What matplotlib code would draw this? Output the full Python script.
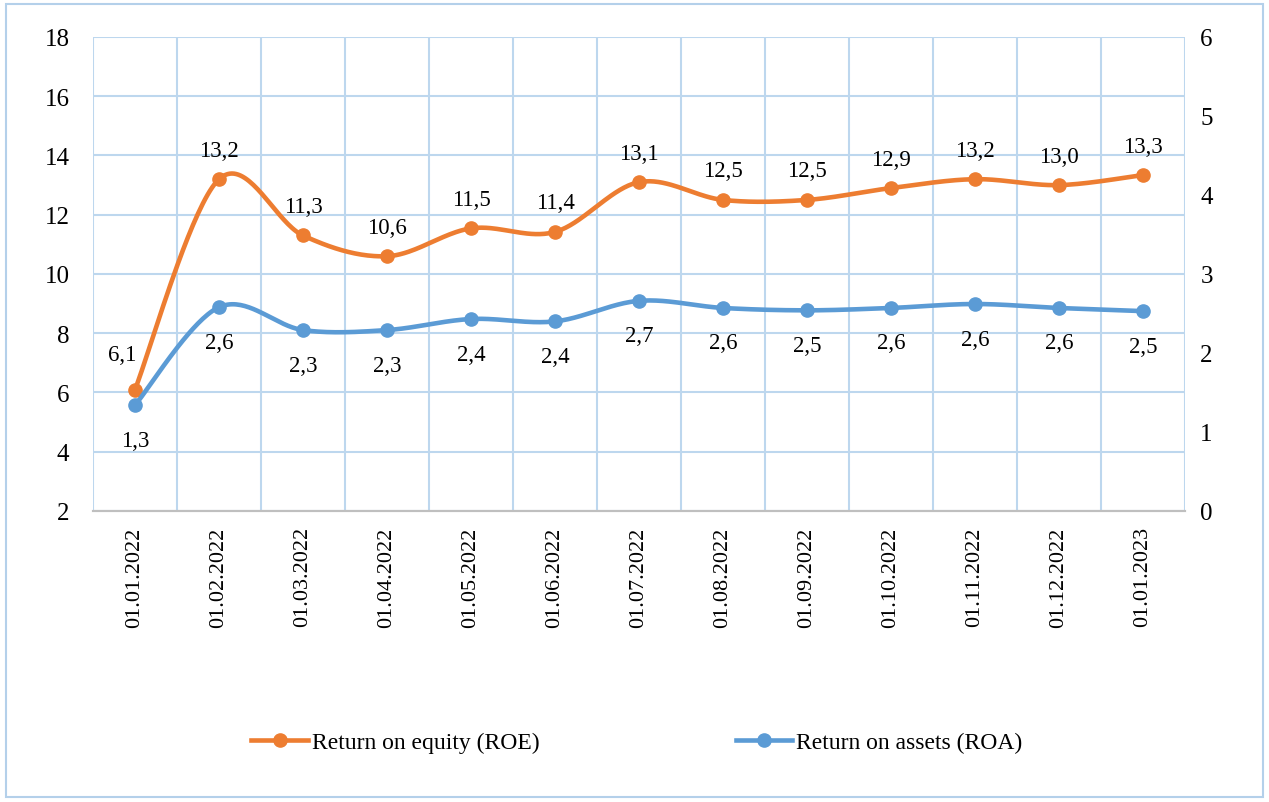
import numpy as np
import matplotlib.pyplot as plt
from matplotlib.patches import Rectangle

plt.rcParams['font.family'] = ['Liberation Serif', 'DejaVu Serif']

dates = ['01.01.2022', '01.02.2022', '01.03.2022', '01.04.2022', '01.05.2022',
         '01.06.2022', '01.07.2022', '01.08.2022', '01.09.2022', '01.10.2022',
         '01.11.2022', '01.12.2022', '01.01.2023']
roe = [6.1, 13.2, 11.3, 10.6, 11.54, 11.42, 13.1, 12.5, 12.5, 12.9, 13.2, 13.0, 13.34]
roa = [1.34, 2.58, 2.29, 2.29, 2.43, 2.40, 2.66, 2.57, 2.54, 2.57, 2.62, 2.57, 2.53]

c_roe = '#ed7d31'
c_roa = '#5b9bd5'
c_grid = '#bdd7ee'


def smooth(x, y, n=40):
    # excel-like bezier smoothing
    p = np.column_stack([x, y]).astype(float)
    pp = np.vstack([p[0], p, p[-1]])
    out = []
    t = np.linspace(0, 1, n)[:, None]
    for i in range(len(p) - 1):
        p0 = pp[i + 1]
        p3 = pp[i + 2]
        p1 = p0 + (pp[i + 2] - pp[i]) / 6
        p2 = p3 - (pp[i + 3] - pp[i + 1]) / 6
        seg = (1 - t)**3 * p0 + 3 * (1 - t)**2 * t * p1 + 3 * (1 - t) * t**2 * p2 + t**3 * p3
        out.append(seg)
    s = np.vstack(out)
    return s[:, 0], s[:, 1]


fig = plt.figure(figsize=(12.69, 8.03), dpi=100)
ax = fig.add_axes([0.0733, 0.3624, 0.8605, 0.5903])
ax2 = ax.twinx()

x = np.arange(len(dates))

sx, sy = smooth(x, roe)
ax.plot(sx, sy, color=c_roe, lw=3.3, solid_capstyle='round', zorder=3)
ax.plot(x, roe, 'o', color=c_roe, ms=9.5, zorder=4)
sx, sy = smooth(x, roa)
ax2.plot(sx, sy, color=c_roa, lw=3.3, solid_capstyle='round', zorder=3)
ax2.plot(x, roa, 'o', color=c_roa, ms=9.5, zorder=4)

for i, v in enumerate(roe):
    dx = -13 if i == 0 else 0
    dy = 35 if i == 0 else 29
    ax.annotate(f'{v:.1f}'.replace('.', ','), (x[i], v), xytext=(dx, dy),
                textcoords='offset pixels', ha='center', va='center', fontsize=16.5)
for i, v in enumerate(roa):
    ax2.annotate(f'{v:.1f}'.replace('.', ','), (x[i], v), xytext=(0, -35),
                 textcoords='offset pixels', ha='center', va='center', fontsize=16.5)

ax.set_xlim(-0.5, len(dates) - 0.5)
ax.set_ylim(2, 18)
ax.set_yticks(np.arange(2, 19, 2))
ax2.set_ylim(0, 6)
ax2.set_yticks(np.arange(0, 7, 1))

ax.set_xticks(x)
ax.set_xticklabels(dates, rotation=90, fontsize=16)
ax.set_xticks(np.arange(-0.5, len(dates), 1), minor=True)
ax.tick_params(axis='x', which='both', length=0, pad=11)
ax.tick_params(axis='y', length=0, pad=17, labelsize=18)
ax2.tick_params(axis='y', length=0, pad=11, labelsize=18)

ax.grid(True, axis='y', color=c_grid, lw=1.5)
ax.grid(True, axis='x', which='minor', color=c_grid, lw=1.5)
ax.set_axisbelow(True)

for a in (ax, ax2):
    for side in ('top', 'left', 'right'):
        a.spines[side].set_visible(False)
    a.spines['bottom'].set_color('#bfbfbf')
    a.spines['bottom'].set_linewidth(1.5)

h1 = plt.Line2D([], [], color=c_roe, lw=3.3, marker='o', ms=9.5)
h2 = plt.Line2D([], [], color=c_roa, lw=3.3, marker='o', ms=9.5)
fig.legend([h1, h2], ['Return on equity (ROE)', 'Return on assets (ROA)'],
           loc='center', bbox_to_anchor=(0.502, 0.074), ncol=2, frameon=False,
           fontsize=17, handlelength=2.4, handletextpad=0.17, columnspacing=8.3)

fig.patches.append(Rectangle((0.005, 0.006), 0.99, 0.988, transform=fig.transFigure,
                             fill=False, edgecolor='#b4d0ea', lw=1.5))

fig.savefig('out.png', dpi=100)
